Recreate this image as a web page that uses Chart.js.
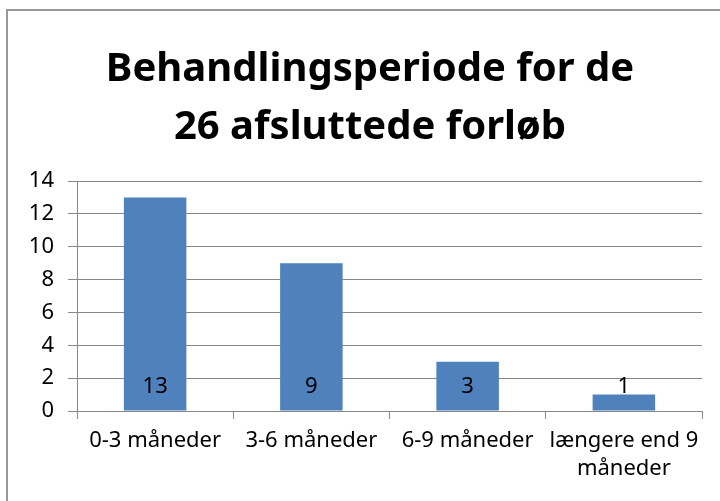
<!DOCTYPE html>
<html>
<head>
<meta charset="utf-8">
<script src="https://cdn.jsdelivr.net/npm/chart.js@4"></script>
<style>
  html, body { margin: 0; padding: 0; background: #fff; overflow: hidden; }
  #frame { position: absolute; left: 6px; top: 9px; width: 800px; height: 600px; border: 2px solid #999; }
  #wrap { position: absolute; left: 0; top: 0; width: 720px; height: 501px; }
</style>
</head>
<body>
<div id="frame"></div>
<div id="wrap"><canvas id="chart"></canvas></div>
<script>
const titleLines = ['Behandlingsperiode for de', '26 afsluttede forløb'];
const categories = ['0-3 måneder', '3-6 måneder', '6-9 måneder', ['længere end 9', 'måneder']];
const values = [13, 9, 3, 1];
const yTicks = [0, 2, 4, 6, 8, 10, 12, 14];

const FONT = '"Noto Sans", sans-serif';

// title is centred a bit right of the plot centre in the original, so draw it by hand
const chartTitle = {
    id: 'chartTitle',
    afterDraw(chart) {
        const ctx = chart.ctx;
        ctx.save();
        ctx.font = 'bold 40px ' + FONT;
        ctx.fillStyle = '#000';
        ctx.textAlign = 'center';
        ctx.textBaseline = 'middle';
        titleLines.forEach((line, i) => {
            ctx.fillText(line, 370, 70 + i * 58);
        });
        ctx.restore();
    }
};

// labels sit near the bar base, like Excel "inside base"
const baseLabels = {
    id: 'baseLabels',
    afterDatasetsDraw(chart) {
        const ctx = chart.ctx;
        const y0 = chart.scales.y.getPixelForValue(0);
        const meta = chart.getDatasetMeta(0);
        ctx.save();
        ctx.font = '22px ' + FONT;
        ctx.fillStyle = '#000';
        ctx.textAlign = 'center';
        ctx.textBaseline = 'middle';
        meta.data.forEach((bar, i) => {
            ctx.fillText(String(values[i]), bar.x, y0 - 24);
        });
        ctx.restore();
    }
};

new Chart(document.getElementById('chart'), {
    type: 'bar',
    data: {
        labels: categories,
        datasets: [{
            data: values,
            backgroundColor: '#4F81BD',
            categoryPercentage: 1,
            barPercentage: 0.4
        }]
    },
    options: {
        responsive: true,
        maintainAspectRatio: false,
        animation: false,
        layout: { padding: { left: 0, right: 18, top: 181, bottom: 0 } },
        plugins: {
            legend: { display: false },
            tooltip: { enabled: false },
            title: { display: false }
        },
        scales: {
            x: {
                grid: { drawOnChartArea: false, drawTicks: true, tickLength: 8, color: '#878787', offset: true },
                border: { color: '#878787', width: 1 },
                ticks: { color: '#000', font: { family: FONT, size: 22, lineHeight: 1.27 }, padding: 8, maxRotation: 0, autoSkip: false },
                afterFit(scale) { scale.height = 90; }
            },
            y: {
                min: 0,
                max: 14,
                grid: { color: '#878787', tickLength: 9 },
                border: { color: '#878787', width: 1 },
                afterBuildTicks(scale) { scale.ticks = yTicks.map(v => ({ value: v })); },
                ticks: { color: '#000', font: { family: FONT, size: 22 }, padding: 14 },
                afterFit(scale) { scale.width = 77; }
            }
        }
    },
    plugins: [chartTitle, baseLabels]
});
</script>
</body>
</html>
